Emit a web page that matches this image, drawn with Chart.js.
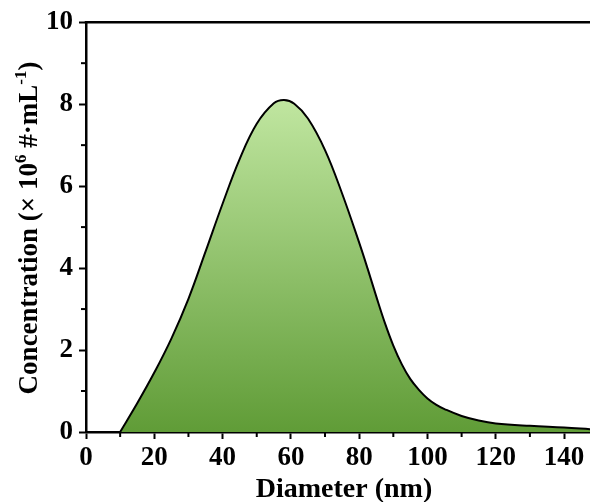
<!DOCTYPE html>
<html>
<head>
<meta charset="utf-8">
<script src="https://cdn.jsdelivr.net/npm/chart.js@4/dist/chart.umd.min.js"></script>
<style>
html,body{margin:0;padding:0;background:#fff;}
#wrap{width:590px;height:502px;position:relative;}
</style>
</head>
<body>
<div id="wrap"><canvas id="c" width="590" height="502"></canvas></div>
<script>
// Data
const baselineDiameter = [0, 10];
const baselineConcentration = [0, 0];
const diameter = [10, 15, 20, 25, 30, 35, 40, 45, 50, 55, 58, 61, 65, 70, 75, 80, 82.5, 85, 87.5, 90, 92.5, 95, 97.5, 100, 102.5, 105, 110, 115, 120, 130, 140, 147.6];
const concentration = [0, 0.7, 1.45, 2.28, 3.25, 4.4, 5.57, 6.66, 7.52, 8.02, 8.1, 8.01, 7.65, 6.88, 5.82, 4.62, 3.98, 3.31, 2.67, 2.11, 1.65, 1.29, 1.03, 0.82, 0.67, 0.56, 0.39, 0.28, 0.21, 0.15, 0.11, 0.07];
const xMajorTicks = [0, 20, 40, 60, 80, 100, 120, 140];
const xMinorTicks = [10, 30, 50, 70, 90, 110, 130];
const yMajorTicks = [0, 2, 4, 6, 8, 10];
const yMinorTicks = [1, 3, 5, 7, 9];
const xTitle = 'Diameter (nm)';
const yTitleParts = [
  {t: 'Concentration (× 10', sup: false},
  {t: '6', sup: true},
  {t: ' #·mL', sup: false},
  {t: '-1', sup: true},
  {t: ')', sup: false}
];

const FONT = '"Liberation Serif", "Times New Roman", serif';

const pts = diameter.map((d, i) => ({x: d, y: concentration[i]}));
const basePts = baselineDiameter.map((d, i) => ({x: d, y: baselineConcentration[i]}));

const decor = {
  id: 'decor',
  afterDraw(chart) {
    const ctx = chart.ctx;
    const xs = chart.scales.x, ys = chart.scales.y;
    const a = chart.chartArea;
    ctx.save();
    ctx.strokeStyle = '#000';
    ctx.lineWidth = 2.5;
    ctx.beginPath();
    ctx.moveTo(a.left - 1.25, a.top);
    ctx.lineTo(chart.width, a.top);
    ctx.stroke();
    ctx.lineWidth = 2;
    xMinorTicks.forEach(v => {
      const px = xs.getPixelForValue(v);
      ctx.beginPath();
      ctx.moveTo(px, a.bottom);
      ctx.lineTo(px, a.bottom + 5);
      ctx.stroke();
    });
    yMinorTicks.forEach(v => {
      const py = ys.getPixelForValue(v);
      ctx.beginPath();
      ctx.moveTo(a.left, py);
      ctx.lineTo(a.left - 5, py);
      ctx.stroke();
    });
    ctx.fillStyle = '#000';
    ctx.font = 'bold 28px ' + FONT;
    ctx.textAlign = 'center';
    ctx.textBaseline = 'alphabetic';
    ctx.fillText(xTitle, 344, 497);
    const big = 'bold 27px ' + FONT;
    const small = 'bold 17px ' + FONT;
    let total = 0;
    yTitleParts.forEach(p => {
      ctx.font = p.sup ? small : big;
      p.w = ctx.measureText(p.t).width;
      total += p.w;
    });
    ctx.translate(37, 228);
    ctx.rotate(-Math.PI / 2);
    ctx.textAlign = 'left';
    let u = -total / 2;
    yTitleParts.forEach(p => {
      ctx.font = p.sup ? small : big;
      ctx.fillText(p.t, u, p.sup ? -11 : 0);
      u += p.w;
    });
    ctx.restore();
  }
};

new Chart(document.getElementById('c'), {
  type: 'line',
  data: {
    datasets: [{
      data: pts,
      borderColor: '#000',
      borderWidth: 2,
      pointRadius: 0,
      tension: 0.4,
      fill: 'origin',
      backgroundColor: (context) => {
        const chart = context.chart;
        const ys = chart.scales.y;
        if (!chart.chartArea || !ys) return 'rgb(120,180,80)';
        const g = chart.ctx.createLinearGradient(0, ys.getPixelForValue(8.1), 0, ys.getPixelForValue(0));
        g.addColorStop(0, 'rgb(192,230,160)');
        g.addColorStop(1, 'rgb(96,156,55)');
        return g;
      }
    }, {
      data: basePts,
      borderColor: '#000',
      borderWidth: 2,
      pointRadius: 0,
      tension: 0,
      fill: false
    }]
  },
  options: {
    responsive: false,
    animation: false,
    layout: {padding: {top: 20, right: 0, left: 0, bottom: 0}},
    plugins: {legend: {display: false}, tooltip: {enabled: false}},
    scales: {
      x: {
        type: 'linear',
        min: 0,
        max: 147.6,
        afterBuildTicks: (s) => { s.ticks = xMajorTicks.map(v => ({value: v})); },
        afterFit: (s) => { s.height = 70; },
        grid: {display: true, drawOnChartArea: false, drawTicks: true, tickLength: 7, tickWidth: 2, tickColor: '#000'},
        border: {display: true, color: '#000', width: 2.5},
        ticks: {color: '#000', font: {family: FONT, size: 27, weight: 'bold'}, padding: 3, maxRotation: 0, autoSkip: false}
      },
      y: {
        type: 'linear',
        min: 0,
        max: 10,
        afterBuildTicks: (s) => { s.ticks = yMajorTicks.map(v => ({value: v})); },
        afterFit: (s) => { s.width = 86; },
        grid: {display: true, drawOnChartArea: false, drawTicks: true, tickLength: 7, tickWidth: 2, tickColor: '#000'},
        border: {display: true, color: '#000', width: 2.5},
        ticks: {color: '#000', font: {family: FONT, size: 27, weight: 'bold'}, padding: 6, autoSkip: false}
      }
    }
  },
  plugins: [decor]
});
</script>
</body>
</html>
